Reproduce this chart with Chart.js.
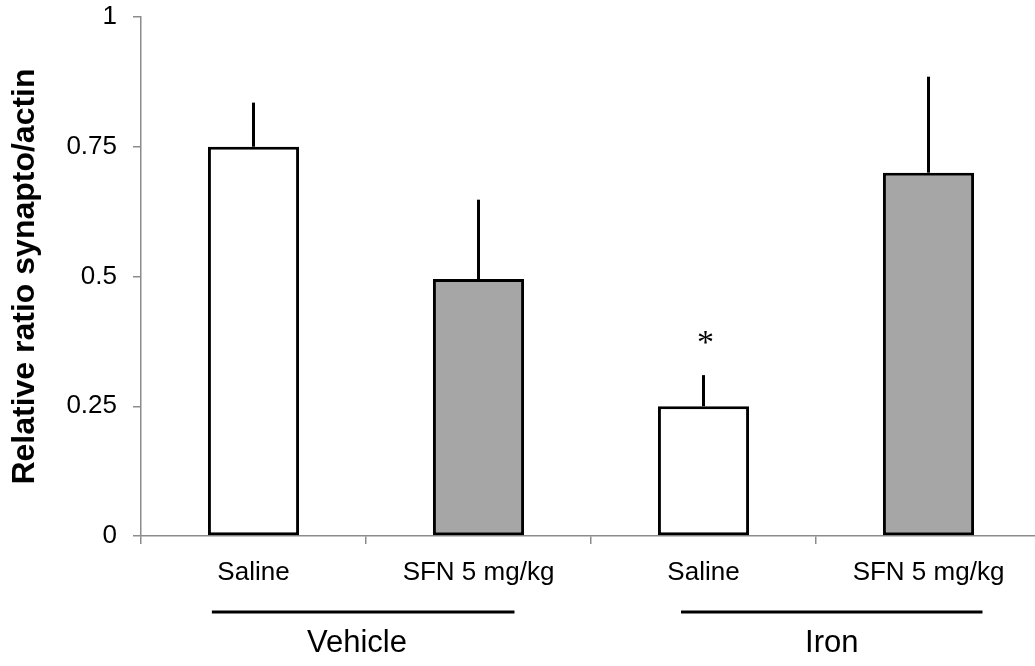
<!DOCTYPE html>
<html>
<head>
<meta charset="utf-8">
<script src="https://cdn.jsdelivr.net/npm/chart.js@4"></script>
<style>
    body { margin: 0; background: #fff; overflow: hidden; }
    #wrap { width: 1041px; height: 666px; }
</style>
</head>
<body>
<div id="wrap"><canvas id="chart"></canvas></div>
<script>
const categories = ['Saline', 'SFN 5 mg/kg', 'Saline', 'SFN 5 mg/kg'];
const values = [0.75, 0.495, 0.25, 0.70];
const errors = [0.085, 0.153, 0.06, 0.185];
const marks = ['', '', '*', ''];
const groups = ['Vehicle', 'Iron'];
const yTicks = [0, 0.25, 0.5, 0.75, 1];
const yTickLabels = ['0', '0.25', '0.5', '0.75', '1'];

const FONT = '"Liberation Sans", Arial, sans-serif';

// group bars + labels under the axis, in category units
const groupLayout = [
    { from: -0.185, to: 1.16, at: 0.46 },
    { from: 1.9, to: 3.24, at: 2.57 },
];

const extras = {
    id: 'extras',
    afterDatasetsDraw(chart) {
        const ctx = chart.ctx;
        const y = chart.scales.y;
        const x = chart.scales.x;
        const meta = chart.getDatasetMeta(0);
        ctx.save();
        ctx.strokeStyle = '#000';
        ctx.lineWidth = 3;
        meta.data.forEach((bar, i) => {
            const top = y.getPixelForValue(values[i] + errors[i]);
            ctx.beginPath();
            ctx.moveTo(bar.x, bar.y);
            ctx.lineTo(bar.x, top);
            ctx.stroke();
            if (marks[i]) {
                ctx.fillStyle = '#000';
                ctx.font = '34px "Liberation Serif", "Times New Roman", serif';
                ctx.textAlign = 'center';
                ctx.textBaseline = 'alphabetic';
                ctx.fillText(marks[i], bar.x + 2, top - 22);
            }
        });

        const step = x.getPixelForValue(1) - x.getPixelForValue(0);
        const x0 = x.getPixelForValue(0);
        groups.forEach((g, i) => {
            const l = groupLayout[i];
            ctx.beginPath();
            ctx.lineWidth = 3;
            ctx.moveTo(x0 + l.from * step, 612);
            ctx.lineTo(x0 + l.to * step, 612);
            ctx.stroke();
            ctx.fillStyle = '#000';
            ctx.font = '31px ' + FONT;
            ctx.textAlign = 'center';
            ctx.textBaseline = 'middle';
            ctx.fillText(g, x0 + l.at * step, 643);
        });
        ctx.restore();
    }
};

new Chart(document.getElementById('chart'), {
    type: 'bar',
    data: {
        labels: categories,
        datasets: [{
            data: values,
            backgroundColor: ['#ffffff', '#a6a6a6', '#ffffff', '#a6a6a6'],
            borderColor: '#000',
            borderWidth: 3,
            borderSkipped: false,
            categoryPercentage: 1,
            barPercentage: 0.405,
        }],
    },
    options: {
        responsive: true,
        maintainAspectRatio: false,
        animation: false,
        layout: { padding: { top: 17, right: 0, bottom: 0, left: 0 } },
        plugins: {
            legend: { display: false },
            tooltip: { enabled: false },
        },
        scales: {
            x: {
                grid: {
                    offset: true,
                    drawOnChartArea: false,
                    color: '#8c8c8c',
                    lineWidth: 1.5,
                    tickLength: 8,
                },
                border: { color: '#8c8c8c', width: 1.5 },
                ticks: {
                    color: '#000',
                    font: { family: FONT, size: 26 },
                    padding: 13,
                    maxRotation: 0,
                },
                afterFit(scale) {
                    scale.height = 130;
                    scale.paddingLeft = 0;
                    scale.paddingRight = 0;
                },
            },
            y: {
                min: 0,
                max: 1,
                afterBuildTicks(scale) {
                    scale.ticks = yTicks.map(v => ({ value: v }));
                },
                grid: {
                    drawOnChartArea: false,
                    color: '#8c8c8c',
                    lineWidth: 1.5,
                    tickLength: 8,
                },
                border: { color: '#8c8c8c', width: 1.5 },
                ticks: {
                    color: '#000',
                    font: { family: FONT, size: 26 },
                    padding: 16,
                    callback: (v) => yTickLabels[yTicks.indexOf(v)],
                },
                title: {
                    display: true,
                    text: 'Relative ratio synapto/actin',
                    color: '#000',
                    font: { family: FONT, size: 32, weight: 'bold', lineHeight: 1.2 },
                    padding: { top: 6, bottom: 0 },
                },
                afterFit(scale) {
                    scale.width = 141;
                    scale.paddingTop = 0;
                    scale.paddingBottom = 0;
                },
            },
        },
    },
    plugins: [extras],
});
</script>
</body>
</html>
